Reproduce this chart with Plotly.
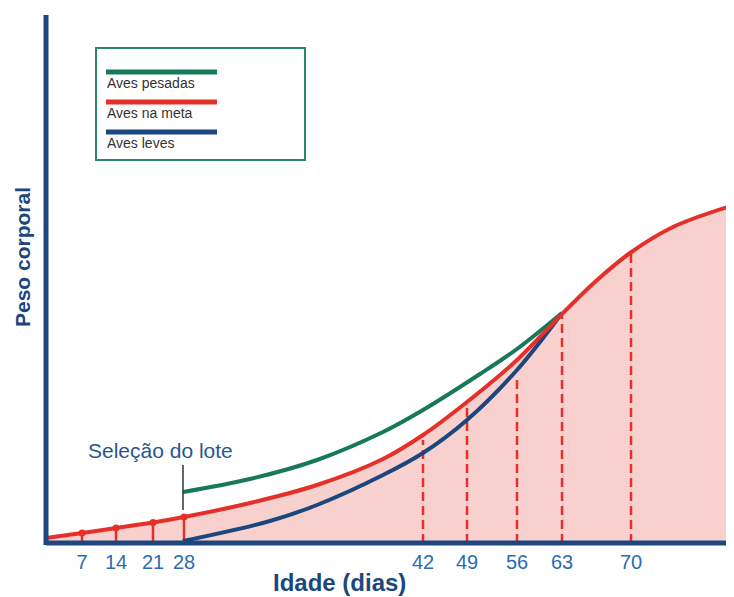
import plotly.graph_objects as go

# ---- data (schematic units: x = position along age axis, y = body weight) ----
tick_days = [7, 14, 21, 28, 42, 49, 56, 63, 70]
tick_x = [36, 70, 107, 138, 377, 421, 471, 516, 585]

red_x = [0, 36, 70, 107, 138, 204, 271, 337, 377, 421, 471, 516, 550, 584, 627, 688]
red_y = [5, 10, 15, 20.5, 26, 40, 58, 84, 108, 141, 183, 229, 262, 290, 316, 338]

green_x = [137, 204, 271, 337, 377, 434, 471, 516]
green_y = [51, 64, 83, 111, 133, 169, 194, 230]

blue_x = [137, 224, 271, 337, 377, 421, 471, 516]
blue_y = [2, 22, 38, 68, 90, 123, 173, 230]

# weights marked at the sampled ages
early_idx = [0, 1, 2, 3]
early_y = [10, 15, 20.5, 26]
late_idx = [4, 5, 6, 7, 8]
late_y = [103, 136, 166, 229, 292]

selection_x = 137
selection_y = [33, 78]

series_names = ["Aves pesadas", "Aves na meta", "Aves leves"]

GREEN = "#17795a"
RED = "#e5302a"
BLUE = "#1b477e"
TICKBLUE = "#2a6cb2"
PINK = "#f8d0ce"
FONT = "Liberation Sans, Arial, sans-serif"

XR = 688.0
YR = 528.0

fig = go.Figure()

fig.add_trace(go.Scatter(x=red_x, y=red_y, mode="lines", line=dict(color=RED, width=0, shape="spline"),
                         fill="tozeroy", fillcolor=PINK, hoverinfo="skip", showlegend=False))

sx, sy = [], []
for i, h in zip(early_idx, early_y):
    sx += [tick_x[i], tick_x[i], None]
    sy += [0, h, None]
fig.add_trace(go.Scatter(x=sx, y=sy, mode="lines", line=dict(color=RED, width=2.5), showlegend=False))
fig.add_trace(go.Scatter(x=[tick_x[i] for i in early_idx], y=early_y, mode="markers",
                         marker=dict(color=RED, size=7), showlegend=False))

dx, dy = [], []
for i, h in zip(late_idx, late_y):
    dx += [tick_x[i], tick_x[i], None]
    dy += [0, h, None]
fig.add_trace(go.Scatter(x=dx, y=dy, mode="lines", line=dict(color=RED, width=2.5, dash="9px,5px"),
                         showlegend=False))

fig.add_trace(go.Scatter(x=green_x, y=green_y, mode="lines", name=series_names[0],
                         line=dict(color=GREEN, width=4, shape="spline"), showlegend=False))
fig.add_trace(go.Scatter(x=blue_x, y=blue_y, mode="lines", name=series_names[2],
                         line=dict(color=BLUE, width=4, shape="spline"), showlegend=False))
fig.add_trace(go.Scatter(x=red_x, y=red_y, mode="lines", name=series_names[1],
                         line=dict(color=RED, width=4, shape="spline"), showlegend=False))

fig.add_trace(go.Scatter(x=[selection_x, selection_x], y=selection_y, mode="lines",
                         line=dict(color="#333333", width=1.5), showlegend=False))

shapes = []
annotations = []
# axes lines
shapes.append(dict(type="line", xref="paper", yref="paper", x0=0, x1=1.01, y0=0, y1=0,
                   line=dict(color=BLUE, width=5), layer="above"))
shapes.append(dict(type="line", xref="paper", yref="paper", x0=0, x1=0, y0=-0.004, y1=1,
                   line=dict(color=BLUE, width=5), layer="above"))
# legend box
shapes.append(dict(type="rect", xref="x", yref="y", x0=50, x1=259, y0=383, y1=495,
                   line=dict(color="#2a8a68", width=2), fillcolor="white", layer="above"))
leg_colors = [GREEN, RED, BLUE]
leg_line_y = [471, 441, 411]
leg_text_y = [460, 430, 400]
for name, c, ly, ty in zip(series_names, leg_colors, leg_line_y, leg_text_y):
    shapes.append(dict(type="line", xref="x", yref="y", x0=60, x1=171, y0=ly, y1=ly,
                       line=dict(color=c, width=5), layer="above"))
    annotations.append(dict(x=59, y=ty, xref="x", yref="y", text=name, showarrow=False,
                            xanchor="left", yanchor="middle",
                            font=dict(family=FONT, size=14, color="#333333")))

annotations.append(dict(x=114, y=93, xref="x", yref="y", text="Seleção do lote", showarrow=False,
                        xanchor="center", yanchor="middle",
                        font=dict(family=FONT, size=21, color="#2a5690")))
annotations.append(dict(x=293 / XR, y=-39 / YR, xref="paper", yref="paper", text="Idade (dias)",
                        showarrow=False, xanchor="center", yanchor="middle",
                        font=dict(family=FONT, size=24, color=BLUE, weight="bold")))
annotations.append(dict(x=-24 / XR, y=286 / YR, xref="paper", yref="paper", text="Peso corporal",
                        showarrow=False, textangle=-90, xanchor="center", yanchor="middle",
                        font=dict(family=FONT, size=21, color=BLUE, weight="bold")))

fig.update_layout(
    width=726, height=589,
    margin=dict(l=38, r=0, t=7, b=54),
    paper_bgcolor="white", plot_bgcolor="white",
    shapes=shapes, annotations=annotations,
    xaxis=dict(range=[0, XR], showgrid=False, zeroline=False, showline=False,
               tickvals=tick_x, ticktext=[str(d) for d in tick_days], ticks="",
               ticklabelstandoff=5,
               tickfont=dict(family=FONT, size=20, color=TICKBLUE), fixedrange=True),
    yaxis=dict(range=[0, YR], showgrid=False, zeroline=False, showline=False,
               showticklabels=False, ticks="", fixedrange=True),
)

fig.write_html("out.html")
